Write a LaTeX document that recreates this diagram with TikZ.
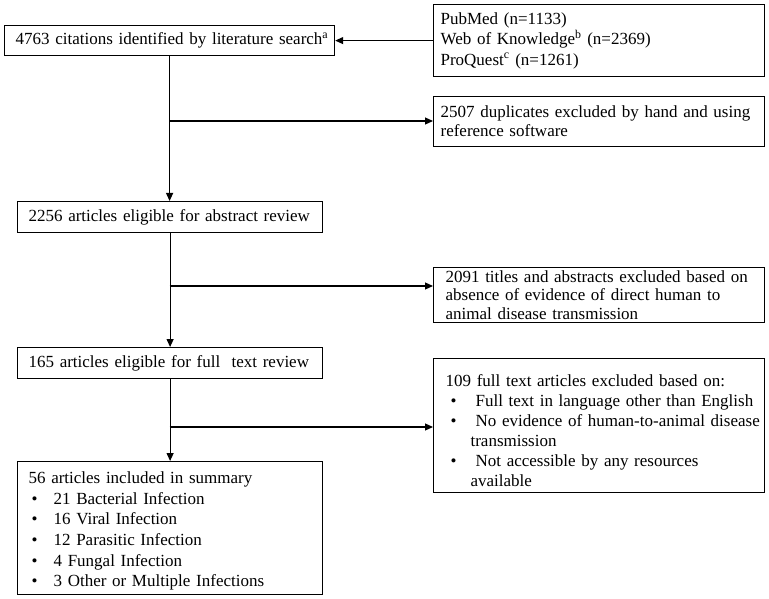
\documentclass[tikz,border=0pt]{standalone}
\usepackage{fontspec}
\setmainfont{Liberation Serif}
\usetikzlibrary{arrows.meta}
\newcommand\Lline[1]{\mbox{#1}}
\newcommand\bulH{\hspace*{3pt}\makebox[22pt][l]{\textbullet}}
\newcommand\bulG{\hspace*{5pt}\makebox[25pt][l]{\textbullet}}
\begin{document}
\begin{tikzpicture}[x=1pt,y=-1pt,
  box/.style={draw, line width=1.2pt, rectangle, anchor=north west, inner ysep=0pt, align=left, font=\fontsize{17}{20.5}\selectfont},
  conn/.style={line width=1.2pt},
  arr/.style={conn, -{Triangle[length=8pt,width=7pt]}}]
\useasboundingbox (0,0) rectangle (769,599);
\fill[white] (0,0) rectangle (769,599);
\node[box, minimum width=330pt, minimum height=30pt, inner xsep=11pt, text width=308pt] (a) at (4,25)
  {\Lline{4763 citations identified by literature search\textsuperscript{a}}};
\node[box, minimum width=331pt, minimum height=72pt, inner xsep=7pt, text width=317pt] (b) at (433,4)
  {\Lline{PubMed (n=1133)}\\ \Lline{Web of Knowledge\textsuperscript{b} (n=2369)}\\ \Lline{ProQuest\textsuperscript{c} (n=1261)}};
\node[box, minimum width=331pt, minimum height=50pt, inner xsep=7pt, text width=317pt, font=\fontsize{17}{19}\selectfont] (c) at (433,96)
  {\Lline{2507 duplicates excluded by hand and using}\\ \Lline{reference software}};
\node[box, minimum width=305pt, minimum height=31pt, inner xsep=11pt, text width=283pt] (d) at (17,201)
  {\Lline{2256 articles eligible for abstract review}};
\node[box, minimum width=331pt, minimum height=55pt, inner xsep=12pt, text width=307pt, font=\fontsize{17}{18.5}\selectfont] (e) at (433,267)
  {\Lline{2091 titles and abstracts excluded based on}\\ \Lline{absence of evidence of direct human to}\\ \Lline{animal disease transmission}};
\node[box, minimum width=305pt, minimum height=31pt, inner xsep=11pt, text width=283pt] (f) at (17,347)
  {\Lline{165 articles eligible for full\ \ text review}};
\node[box, minimum width=331pt, minimum height=134pt, inner xsep=12pt, text width=307pt, font=\fontsize{17}{20}\selectfont] (g) at (433,358)
  {\Lline{\rule{0pt}{22pt}109 full text articles excluded based on:}\\
   \Lline{\bulG Full text in language other than English}\\
   \Lline{\bulG No evidence of human-to-animal disease}\\
   \Lline{\hspace*{25pt}transmission}\\
   \Lline{\bulG Not accessible by any resources}\\
   \Lline{\hspace*{25pt}available}};
\node[box, minimum width=305pt, minimum height=133pt, inner xsep=11pt, text width=283pt, font=\fontsize{17}{20.6}\selectfont] (h) at (17,461)
  {\Lline{\rule{0pt}{18pt}56 articles included in summary}\\
   \Lline{\bulH 21 Bacterial Infection}\\
   \Lline{\bulH 16 Viral Infection}\\
   \Lline{\bulH 12 Parasitic Infection}\\
   \Lline{\bulH 4 Fungal Infection}\\
   \Lline{\bulH 3 Other or Multiple Infections}};
\coordinate (j1) at (169.5,121);
\coordinate (j2) at (169.5,286);
\coordinate (j3) at (169.5,427);
\draw[arr] (b.west) -- (a.east);
\draw[arr] (a.south) -- (a.south |- d.north);
\draw[arr] (j1) -- (j1 -| c.west);
\draw[arr] (d.south) -- (d.south |- f.north);
\draw[arr] (j2) -- (j2 -| e.west);
\draw[arr] (f.south) -- (f.south |- h.north);
\draw[arr] (j3) -- (j3 -| g.west);
\end{tikzpicture}
\end{document}
